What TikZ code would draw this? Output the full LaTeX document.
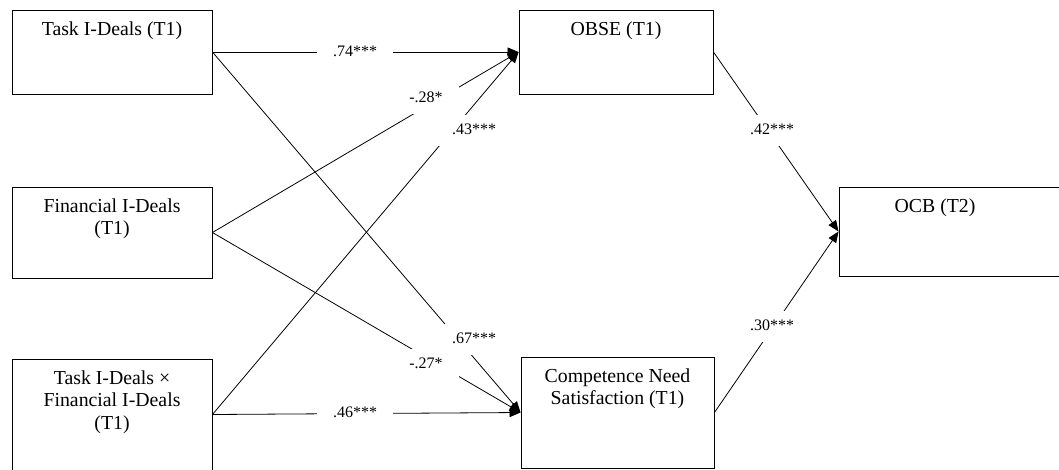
\documentclass[tikz,border=0pt]{standalone}
\usepackage{fontspec}
\setmainfont{Liberation Serif}
\usetikzlibrary{arrows.meta}
\begin{document}
\begin{tikzpicture}[x=1pt,y=-1pt,
  box/.style 2 args={draw,line width=0.9pt,minimum width=#1,minimum height=#2,inner sep=0pt},
  boxtxt/.style={anchor=north,inner sep=0pt,yshift=-12pt,align=center,font=\fontsize{19.8}{22.5}\selectfont},
  coef/.style={fill=white,inner xsep=16pt,inner ysep=9pt,text height=11pt,text depth=2pt,font=\fontsize{16}{18}\selectfont},
  eff/.style={-{Triangle[length=11pt,width=9pt]},line width=0.8pt}]
\useasboundingbox (0,0) rectangle (1059,469);
\node[box={200pt}{84pt},label={[boxtxt]north:Task I-Deals (T1)}] (task) at (112,52) {};
\node[box={200pt}{91pt},label={[boxtxt]north:Financial I-Deals\\(T1)}] (fin) at (112,232.5) {};
\node[box={200pt}{111pt},label={[boxtxt]north:Task I-Deals ×\\Financial I-Deals\\(T1)}] (inter) at (112,414.5) {};
\node[box={194pt}{84pt},label={[boxtxt]north:OBSE (T1)}] (obse) at (616,52) {};
\node[box={193pt}{111pt},label={[boxtxt]north:Competence Need\\Satisfaction (T1)}] (cns) at (617.5,412.5) {};
\node[box={226pt}{89pt},label={[boxtxt,xshift=-17pt]north:OCB (T2)}] (ocb) at (952,231.5) {};
\draw[eff] (task.east) -- (obse.west);
\draw[eff] (task.east) -- (cns.west);
\draw[eff] (fin.east) -- (obse.west);
\draw[eff] (fin.east) -- (cns.west);
\draw[eff] (inter.east) -- (obse.west);
\draw[eff] (inter.east) -- (cns.west);
\draw[eff] (obse.east) -- (ocb.west);
\draw[eff] (cns.east) -- (ocb.west);
\node[coef] (c74) at (355,52) {.74***};
\node[coef] (c28) at (426,98) {-.28*};
\node[coef] (c43) at (474,130) {.43***};
\node[coef] (c67) at (474,339) {.67***};
\node[coef] (c27) at (426,364) {-.27*};
\node[coef] (c46) at (355,413) {.46***};
\node[coef] (c42) at (772,130) {.42***};
\node[coef] (c30) at (772,326) {.30***};
\end{tikzpicture}
\end{document}
